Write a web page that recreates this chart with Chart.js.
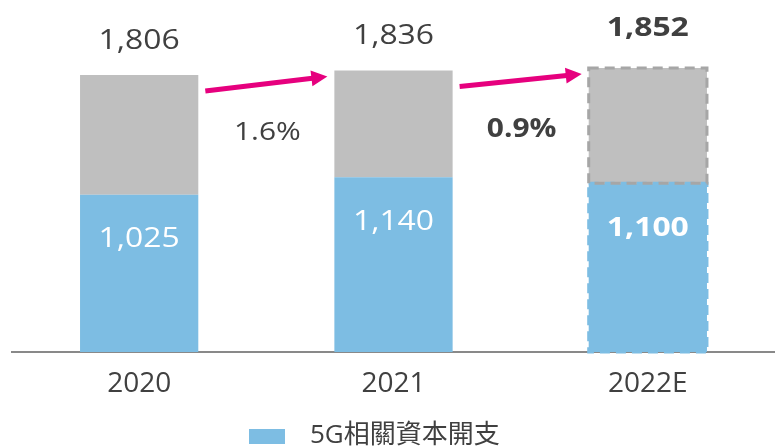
<!DOCTYPE html>
<html>
<head>
<meta charset="utf-8">
<script src="https://cdn.jsdelivr.net/npm/chart.js@4.4.1/dist/chart.umd.min.js"></script>
<style>
  html, body { margin: 0; padding: 0; background: #fff; }
  #wrap { width: 775px; height: 447px; }
</style>
</head>
<body>
<div id="wrap"><canvas id="capexChart" width="775" height="447"></canvas></div>
<script>
var years = ['2020', '2021', '2022E'];
var capex5g = [1025, 1140, 1100];      // 5G相關資本開支
var totals = [1806, 1836, 1852];       // total capex
var growth = ['1.6%', '0.9%'];
var otherCapex = totals.map(function (t, i) { return t - capex5g[i]; });

var FONT = '"Open Sans", "Noto Sans CJK TC", sans-serif';
var TEXT = '#404040';
var BLUE = '#7DBDE3';
var GREY = '#BFBFBF';
var PINK = '#E6007E';

function arrow(ctx, x1, y1, x2, y2) {
    var ang = Math.atan2(y2 - y1, x2 - x1);
    var head = 15;
    ctx.save();
    ctx.strokeStyle = PINK;
    ctx.fillStyle = PINK;
    ctx.lineWidth = 5;
    ctx.beginPath();
    ctx.moveTo(x1, y1);
    ctx.lineTo(x2 - head * Math.cos(ang), y2 - head * Math.sin(ang));
    ctx.stroke();
    ctx.translate(x2, y2);
    ctx.rotate(ang);
    ctx.beginPath();
    ctx.moveTo(0, 0);
    ctx.lineTo(-head - 1, -8);
    ctx.lineTo(-head - 1, 8);
    ctx.closePath();
    ctx.fill();
    ctx.restore();
}

// centred label, widened a little horizontally
function label(ctx, text, x, y, font, color, sx) {
    ctx.save();
    ctx.translate(x, y);
    ctx.scale(sx, 1);
    ctx.font = font;
    ctx.fillStyle = color;
    ctx.textAlign = 'center';
    ctx.textBaseline = 'middle';
    ctx.fillText(text, 0, 0);
    ctx.restore();
}

var overlay = {
    id: 'overlay',
    afterDatasetsDraw: function (chart) {
        var ctx = chart.ctx;
        var blue = chart.getDatasetMeta(0).data;
        var grey = chart.getDatasetMeta(1).data;
        var last = years.length - 1;

        // dashed outline on the estimate bar
        ctx.save();
        ctx.lineWidth = 3;
        ctx.setLineDash([10, 6]);
        var b = blue[last], g = grey[last];
        ctx.strokeStyle = BLUE;
        ctx.strokeRect(b.x - b.width / 2, b.y, b.width, b.base - b.y);
        ctx.strokeStyle = '#A6A6A6';
        ctx.strokeRect(g.x - g.width / 2, g.y, g.width, g.base - g.y);
        ctx.restore();

        for (var i = 0; i < years.length; i++) {
            var est = i === last;
            var f = (est ? 'bold ' : '') + '27px ' + FONT;
            label(ctx, totals[i].toLocaleString('en-US'), grey[i].x, grey[i].y - (est ? 40 : 34), f, TEXT, 1.18);
            label(ctx, capex5g[i].toLocaleString('en-US'), blue[i].x, blue[i].y + 45, f, '#FFFFFF', 1.18);
        }

        // growth arrows between bar tops
        for (var j = 0; j < growth.length; j++) {
            var a = grey[j], n = grey[j + 1];
            var x1 = a.x + a.width / 2 + 7, y1 = a.y + 16;
            var x2 = n.x - n.width / 2 - 7, y2 = n.y + 6;
            arrow(ctx, x1, y1, x2, y2);
            var pf = (j === growth.length - 1 ? 'bold ' : '') + '26px ' + FONT;
            label(ctx, growth[j], (x1 + x2) / 2 + 1, (y1 + y2) / 2 + 49, pf, TEXT, 1.15);
        }

        // legend
        ctx.save();
        ctx.fillStyle = BLUE;
        ctx.fillRect(249, 429, 36, 15);
        ctx.fillStyle = TEXT;
        ctx.textAlign = 'left';
        ctx.textBaseline = 'middle';
        ctx.font = '26px ' + FONT;
        ctx.fillText('5G相關資本開支', 310, 436);
        ctx.restore();
    }
};

new Chart(document.getElementById('capexChart'), {
    type: 'bar',
    data: {
        labels: years,
        datasets: [{
            label: '5G相關資本開支',
            data: capex5g,
            backgroundColor: BLUE,
            borderWidth: 0
        }, {
            label: 'other',
            data: otherCapex,
            backgroundColor: GREY,
            borderWidth: 0
        }]
    },
    options: {
        responsive: false,
        animation: false,
        layout: { padding: { left: 12, right: -4, top: 10, bottom: 0 } },
        datasets: { bar: { categoryPercentage: 0.465, barPercentage: 1 } },
        plugins: { legend: { display: false }, tooltip: { enabled: false } },
        scales: {
            x: {
                stacked: true,
                grid: { display: false, drawTicks: false },
                border: { display: true, color: '#898989', width: 2 },
                ticks: { color: TEXT, padding: 15, font: { family: FONT, size: 28 } },
                afterFit: function (scale) { scale.height = 95; }
            },
            y: {
                stacked: true,
                display: false,
                min: 0,
                max: 2230
            }
        }
    },
    plugins: [overlay]
});
</script>
</body>
</html>
